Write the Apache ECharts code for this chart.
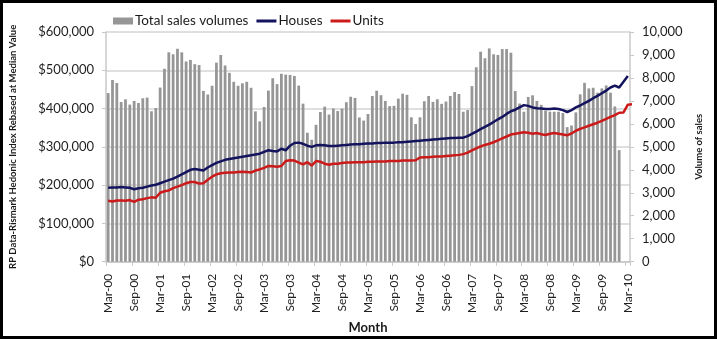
<!DOCTYPE html>
<html><head><meta charset="utf-8">
<script src="https://cdn.jsdelivr.net/npm/echarts@6/dist/echarts.min.js"></script>
<style>
html,body{margin:0;padding:0;background:#fff;}
#wrap{position:relative;width:717px;height:339px;}
#chart{position:absolute;left:0;top:0;width:717px;height:339px;}
#frame{position:absolute;left:0;top:0;width:717px;height:339px;box-sizing:border-box;border:3px solid #000;pointer-events:none;}
</style>
</head><body>
<div id="wrap"><div id="chart"></div><div id="frame"></div></div>
<script>
// Months Mar-00 .. Mar-10
const monthNames = ['Jan','Feb','Mar','Apr','May','Jun','Jul','Aug','Sep','Oct','Nov','Dec'];
const categories = [];
for (let k = 0; k < 121; k++) {
  const m = (2 + k) % 12;
  const y = Math.floor((2 + k) / 12);
  categories.push(monthNames[m] + '-' + String(y).padStart(2, '0'));
}

// Total sales volumes (right axis)
const salesVolumes = [
  7340,7910,7780,6950,7070,6840,7000,6910,7115,7143,6550,6690,
  7580,8400,9115,9030,9270,9115,8715,8786,8600,8560,7436,7280,
  7660,8665,9000,8543,8222,7830,7660,7765,7830,7572,6543,6108,
  6736,7450,7986,7730,8180,8143,8130,8086,7665,6880,5615,5308,
  5958,6515,6750,6408,6672,6558,6665,6943,7180,7130,6280,6143,
  6429,7215,7443,7250,7000,6772,6786,7100,7315,7265,6286,5993,
  6286,6986,7215,6957,7072,6872,6972,7215,7386,7300,6529,6600,
  7643,8465,9143,8858,9286,9029,9000,9258,9258,9100,7429,6886,
  6529,7172,7243,7000,6829,6572,6529,6529,6529,6472,5858,5929,
  6500,7286,7786,7543,7572,7358,7543,7672,7358,6758,4857,null,null
];

// Houses index (left axis, $)
const houses = [
  193,194,194,195,194,193,189,192,193,196,199,201,
  205,209,213,217,222,228,234,240,242,240,238,246,
  252,258,262,266,268,270,272,274,276,278,280,282,
  287,291,289,288,295,291,303,310,311,308,303,300,
  304,305,304,302,302,303,304,305,306,307,307,308,
  309,309,310,310,311,311,311,312,312,313,314,315,
  316,317,318,319,320,321,322,323,323,324,324,328,
  334,340,346,352,358,365,372,378,386,393,397,403,
  409,407,403,401,400,399,399,400,399,396,391,396,
  403,408,414,420,427,433,440,447,455,460,455,470,485
].map(v => v * 1000);

// Units index (left axis, $)
const units = [
  159,157,160,160,159,161,156,162,163,166,168,167,
  180,184,186,192,196,200,205,208,208,204,205,214,
  222,228,231,232,233,233,234,235,234,233,238,241,
  245,250,249,248,250,263,265,264,259,254,260,251,
  263,261,256,253,256,256,258,259,259,260,260,260,
  261,261,262,262,262,263,263,263,264,264,264,265,
  272,273,273,274,275,275,276,277,278,279,281,285,
  291,296,301,305,308,312,317,322,327,332,334,336,
  338,337,334,336,333,331,334,336,334,332,330,335,
  342,347,351,355,359,363,368,373,378,383,389,390,410,411
].map(v => v * 1000);

const leftTicks = [0,100000,200000,300000,400000,500000,600000];
const rightTicks = [0,1000,2000,3000,4000,5000,6000,7000,8000,9000,10000];

const fmt = v => v.toString().replace(/\B(?=(\d{3})+(?!\d))/g, ',');
const FONT = 'Lato';
const chart = echarts.init(document.getElementById('chart'));
chart.setOption({
  animation: false,
  textStyle: { fontFamily: FONT },
  legend: {
    left: 108, top: 9,
    itemGap: 8, itemWidth: 20, itemHeight: 7,
    textStyle: { fontFamily: FONT, fontSize: 13.5, color: '#1a1a1a', padding: [0,0,0,-3] },
    data: [
      { name: 'Total sales volumes', icon: 'rect' },
      { name: 'Houses', icon: 'path://M0,0 L20,0 L20,3 L0,3 Z' },
      { name: 'Units', icon: 'path://M0,0 L20,0 L20,3 L0,3 Z' }
    ]
  },
  grid: { left: 106, right: 87, top: 32, bottom: 74 },
  xAxis: {
    type: 'category',
    data: categories,
    boundaryGap: true,
    name: 'Month',
    nameLocation: 'middle',
    nameGap: 56,
    nameTextStyle: { fontFamily: FONT, fontSize: 13, fontWeight: 'bold', color: '#1a1a1a' },
    axisLine: { lineStyle: { color: '#c8c8c8', width: 1.5 } },
    axisTick: { show: true, interval: 5, length: 4, lineStyle: { color: '#c8c8c8' } },
    axisLabel: { interval: 5, rotate: 90, fontSize: 12, color: '#1f1f1f', margin: 12, fontFamily: FONT },
    splitLine: { show: false }
  },
  yAxis: [
    {
      type: 'value', min: 0, max: 600000, interval: 100000,
      name: 'RP Data-Rismark Hedonic Index Rebased at Median Value',
      nameLocation: 'middle', nameRotate: 90, nameGap: 88,
      nameTextStyle: { fontFamily: FONT, fontSize: 9.5, fontWeight: 'bold', color: '#1a1a1a' },
      axisLine: { show: true, lineStyle: { color: '#c8c8c8', width: 1.5 } },
      axisTick: { show: true, length: 4, lineStyle: { color: '#c8c8c8' } },
      axisLabel: { formatter: v => '$' + fmt(v), fontSize: 13, color: '#1f1f1f', margin: 12, fontFamily: FONT },
      splitLine: { show: true, lineStyle: { color: '#d4d4d4', width: 1.5 } }
    },
    {
      type: 'value', min: 0, max: 10000, interval: 1000,
      name: 'Volume of sales',
      nameLocation: 'middle', nameRotate: 90, nameGap: 60,
      nameTextStyle: { fontFamily: FONT, fontSize: 9.5, fontWeight: 'bold', color: '#1a1a1a' },
      axisLine: { show: true, lineStyle: { color: '#c8c8c8', width: 1.5 } },
      axisTick: { show: true, length: 4, lineStyle: { color: '#c8c8c8' } },
      axisLabel: { formatter: v => fmt(v), fontSize: 13, color: '#1f1f1f', margin: 12, fontFamily: FONT },
      splitLine: { show: false }
    }
  ],
  series: [
    {
      name: 'Total sales volumes', type: 'bar', yAxisIndex: 1,
      data: salesVolumes, barCategoryGap: '36%',
      itemStyle: { color: '#969696' }, z: 1
    },
    {
      name: 'Houses', type: 'line', yAxisIndex: 0, data: houses,
      showSymbol: false, symbol: 'none',
      lineStyle: { color: '#13135e', width: 2.5 }, itemStyle: { color: '#13135e' }, z: 3
    },
    {
      name: 'Units', type: 'line', yAxisIndex: 0, data: units,
      showSymbol: false, symbol: 'none',
      lineStyle: { color: '#cc1a1a', width: 2.5 }, itemStyle: { color: '#cc1a1a' }, z: 3
    }
  ]
});
</script>
</body></html>
